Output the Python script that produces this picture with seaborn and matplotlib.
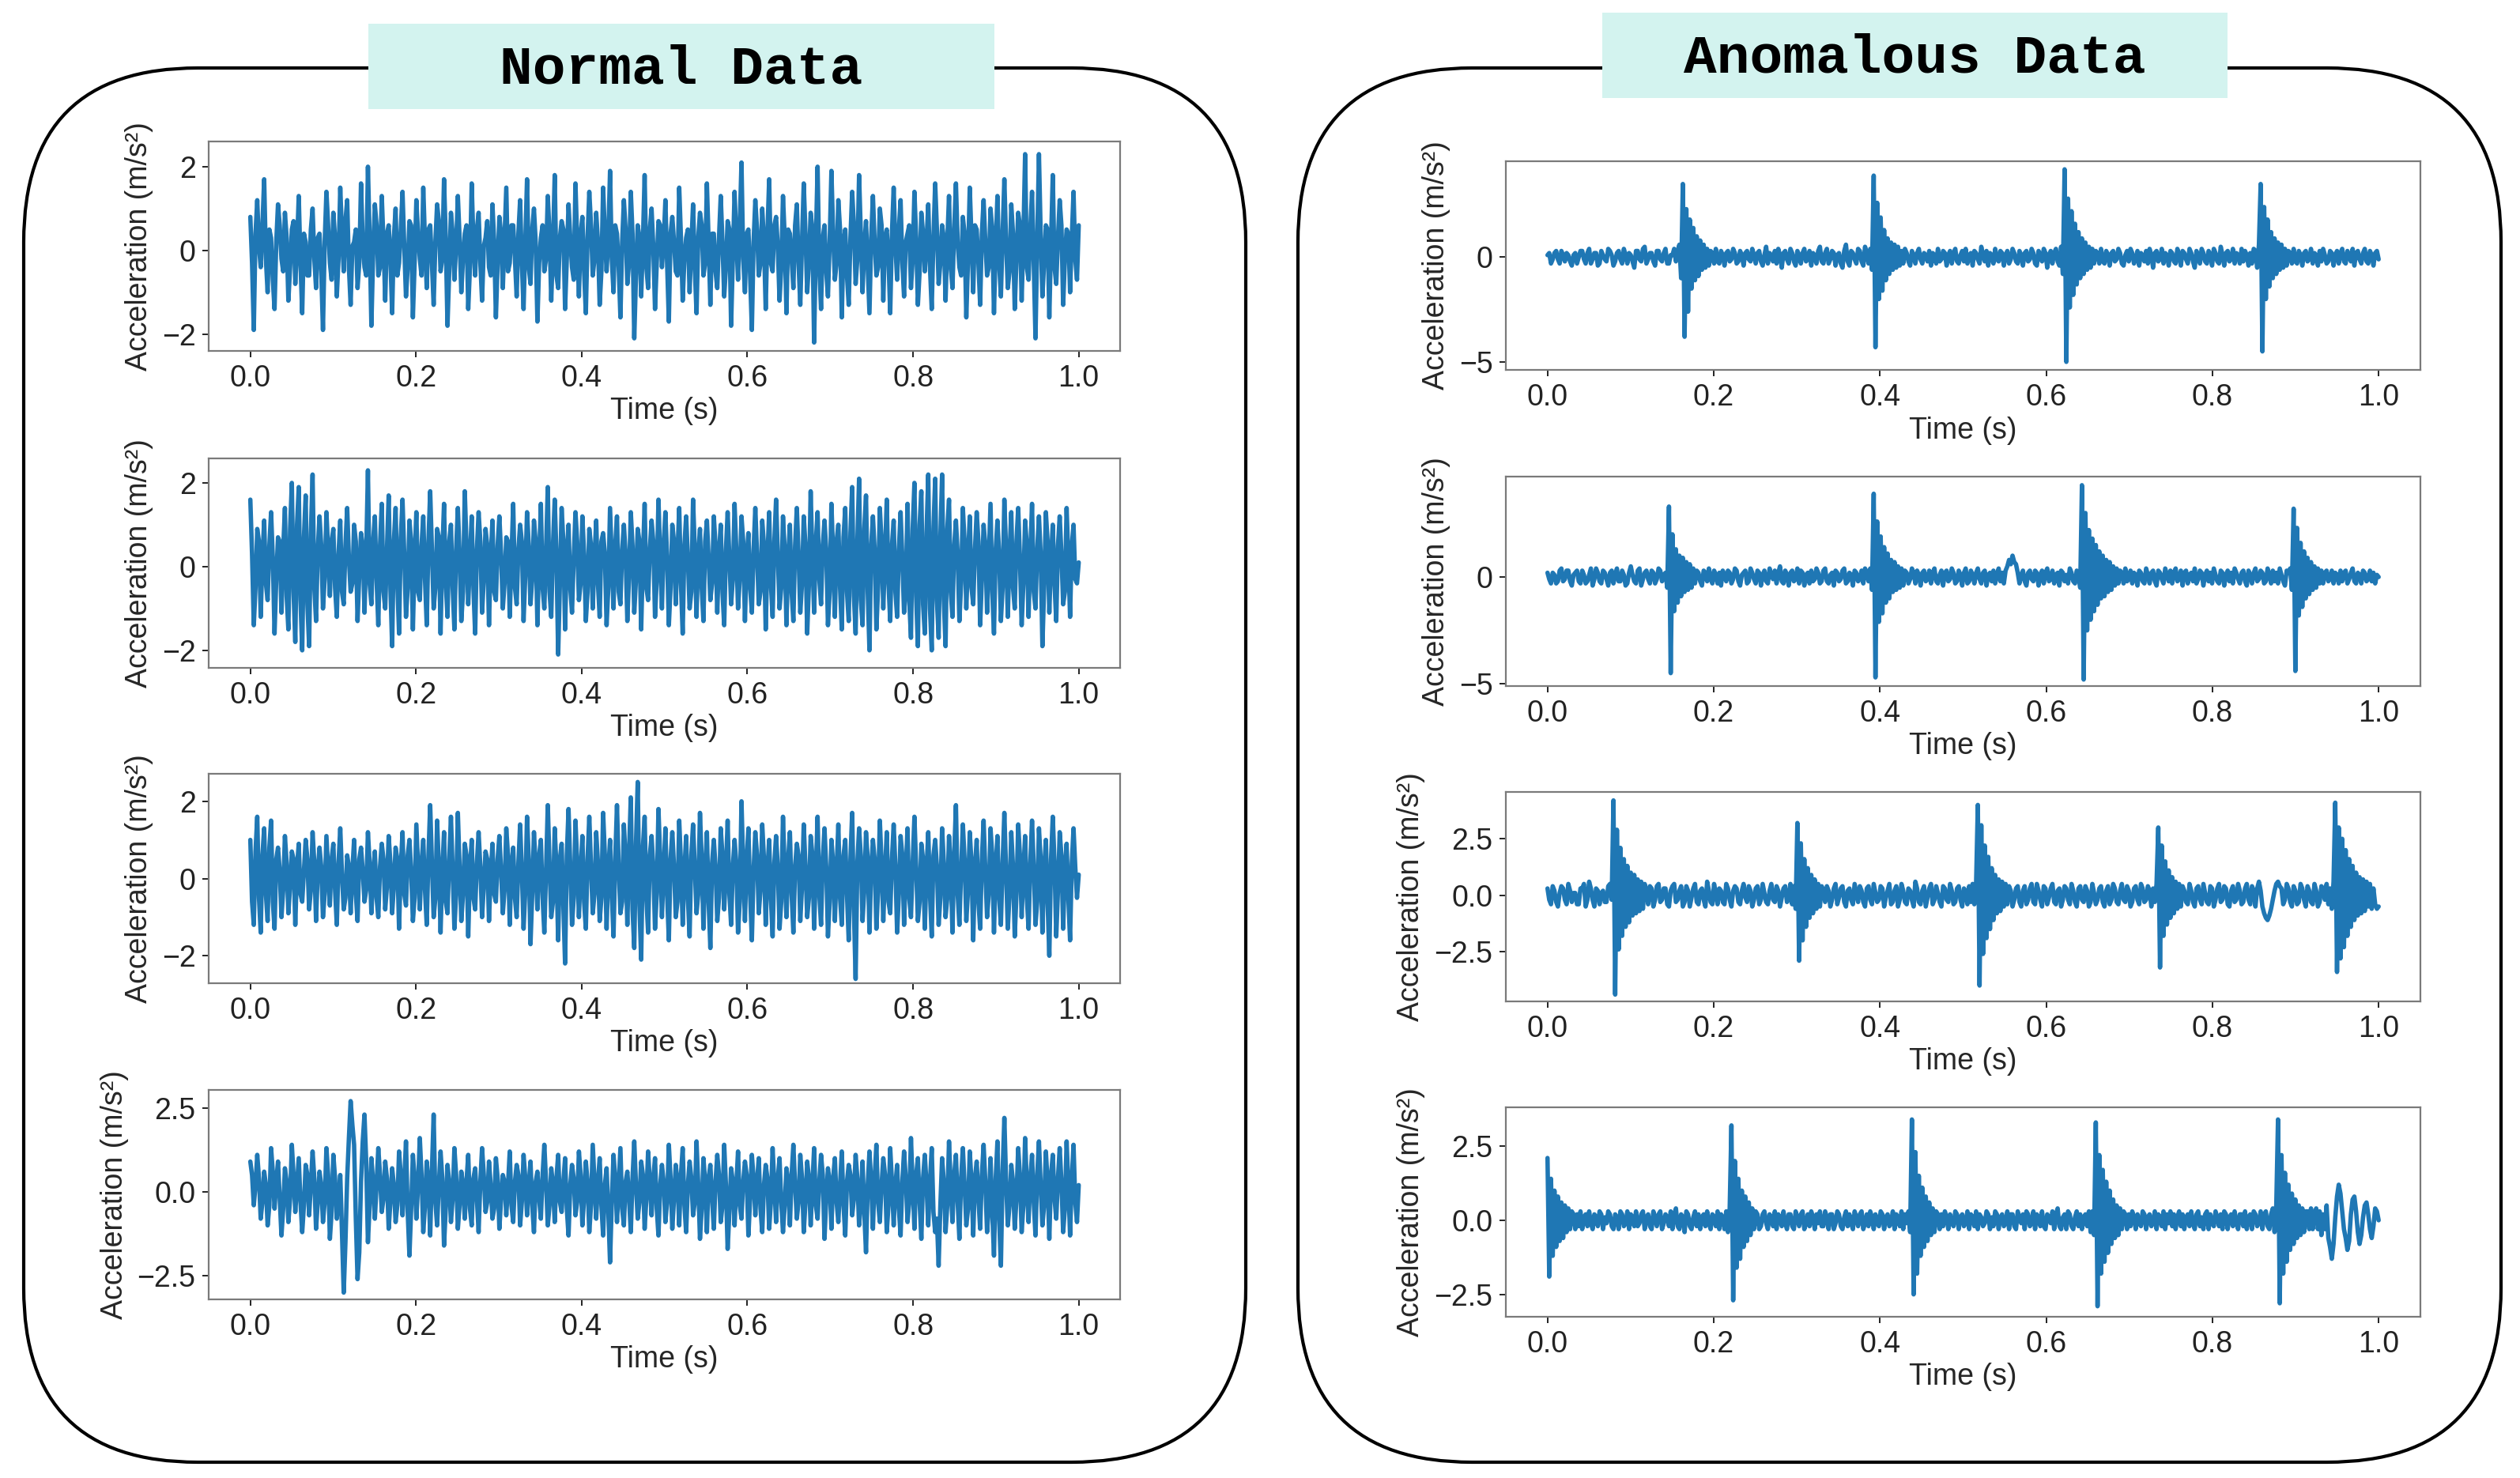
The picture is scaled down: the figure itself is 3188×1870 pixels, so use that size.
"""Normal vs anomalous vibration signals, two framed groups of four traces."""

import numpy as np
import matplotlib

matplotlib.use("Agg")
import matplotlib.pyplot as plt
from matplotlib.patches import FancyBboxPatch
import seaborn as sns

# ---------------------------------------------------------------------------
# Data: acceleration samples (m/s^2), 480 samples over 1 s
# ---------------------------------------------------------------------------
DURATION_S = 1.0

normal_1 = [
    0.8, -0.3, -1.9, 0.4, 1.2, 0.1, -0.4, 0.6, 1.7, -0.2, -1.0, 0.5, 0.3, -0.7, -1.4, 0.2, 1.1, 0.6, -0.2, -0.5,
    0.9, 0.3, -1.2, -0.4, 0.5, 0.7, -0.8, 0.1, 1.3, -0.3, -1.5, 0.4, 0.2, -0.6, -0.6, 0.5, 1.0, -0.2, -0.9, 0.3,
    0.4, -0.5, -1.9, 0.2, 1.4, 0.6, -0.3, -0.7, 0.9, 0.3, -1.1, -0.2, 1.5, 0.4, -0.5, 0.7, 1.2, -0.4, -1.3, 0.1,
    0.2, 0.5, -0.9, -0.3, 1.6, 0.2, -0.4, -0.6, 2.0, 0.3, -1.8, -0.1, 1.1, 0.6, -0.6, -0.4, 1.3, 0.2, -1.2, 0.4,
    0.6, -0.2, -1.5, 0.3, 1.0, -0.6, -0.3, 0.5, 1.4, 0.1, -1.1, -0.4, 0.7, 0.6, -1.6, -0.3, 1.2, 0.4, -0.2, -0.6,
    1.5, 0.2, -0.9, 0.5, 0.6, -0.3, -1.3, 0.2, 1.1, 0.7, -0.5, -0.2, 1.7, 0.3, -1.8, -0.5, 0.9, 0.4, -0.7, 0.1,
    1.3, 0.3, -1.0, -0.2, 0.4, 0.6, -1.4, -0.4, 1.6, 0.2, -0.6, 0.5, 0.9, -0.3, -1.2, 0.1, 0.3, 0.7, -0.4, -0.6,
    1.1, 0.2, -1.6, -0.3, 0.8, 0.4, -0.9, 0.3, 1.5, -0.5, -0.3, 0.6, 0.6, -0.2, -1.1, 0.4, 1.2, -0.3, -1.4, 0.2,
    1.7, -0.4, -0.8, 0.5, 1.0, 0.2, -1.7, -0.3, 0.3, 0.6, -0.5, -0.2, 1.3, 0.4, -1.2, 0.1, 1.8, -0.6, -0.9, 0.3,
    0.7, 0.5, -1.4, -0.2, 1.1, 0.3, -0.4, -0.7, 1.6, 0.2, -1.1, 0.4, 0.8, -0.5, -1.5, 0.3, 1.4, 0.6, -0.6, -0.2,
    0.9, 0.2, -1.3, -0.5, 1.5, 0.4, -0.5, 0.3, 1.9, -0.2, -1.0, 0.6, 0.4, -0.4, -1.6, 0.2, 1.2, 0.5, -0.8, -0.3,
    1.4, 0.4, -2.1, -0.6, 0.6, 0.3, -1.1, 0.2, 1.8, -0.4, -0.9, 0.5, 1.0, 0.1, -1.4, -0.3, 0.7, 0.6, -0.4, 0.2,
    1.2, -0.3, -1.7, 0.4, 0.8, 0.2, -0.5, -0.6, 1.5, 0.3, -1.2, -0.2, 0.3, 0.5, -1.0, 0.1, 1.1, -0.4, -1.5, 0.3,
    0.9, 0.6, -0.6, -0.3, 1.6, 0.2, -1.3, 0.4, 0.4, -0.5, -0.9, 0.3, 1.3, 0.2, -1.1, -0.4, 0.7, 0.5, -1.8, -0.2,
    1.4, 0.3, -0.7, 0.6, 2.1, -0.2, -1.0, 0.4, 0.5, -0.6, -1.9, 0.2, 1.2, 0.5, -0.6, -0.3, 1.0, 0.2, -1.4, 0.4,
    1.7, -0.3, -0.5, 0.6, 0.8, 0.1, -1.2, -0.4, 1.3, 0.3, -1.5, 0.5, 0.4, -0.2, -0.9, 0.6, 1.1, -0.3, -1.3, 0.2,
    1.6, 0.4, -1.0, -0.3, 0.9, 0.5, -2.2, 0.2, 2.0, -0.4, -1.4, 0.3, 0.6, -0.5, -1.1, 0.2, 1.9, 0.4, -0.7, -0.3,
    1.2, 0.5, -1.6, 0.2, 0.5, -0.6, -1.3, 0.3, 1.4, 0.6, -0.8, -0.2, 1.8, 0.4, -1.0, 0.1, 0.7, -0.4, -1.5, 0.3,
    1.3, 0.2, -0.6, -0.4, 1.0, 0.6, -1.2, 0.3, 0.5, -0.2, -1.5, 0.4, 1.5, 0.1, -0.7, 0.5, 1.2, -0.3, -1.1, 0.2,
    0.4, 0.6, -0.9, -0.2, 1.4, 0.3, -1.3, -0.5, 0.9, 0.4, -0.5, 0.2, 1.1, -0.4, -1.4, 0.3, 1.6, 0.5, -0.8, -0.3,
    0.6, 0.3, -1.2, 0.2, 1.3, -0.4, -0.9, 0.5, 1.6, 0.2, -0.4, -0.6, 0.8, 0.4, -1.6, -0.2, 1.5, 0.3, -1.0, 0.6,
    0.5, -0.3, -1.3, 0.4, 1.2, 0.2, -0.6, -0.4, 1.0, 0.5, -1.5, 0.1, 1.3, -0.3, -1.1, 0.4, 1.7, 0.2, -0.9, -0.5,
    1.1, 0.4, -1.4, -0.2, 0.9, 0.6, -1.2, 0.3, 2.3, -0.4, -0.7, 0.5, 1.4, -0.3, -2.1, 0.2, 2.3, 0.4, -1.1, -0.3,
    0.6, 0.5, -1.6, 0.2, 1.8, -0.4, -0.8, 0.3, 1.2, 0.6, -1.3, -0.2, 0.5, 0.4, -1.0, 0.3, 1.4, -0.2, -0.7, 0.6,
]

normal_2 = [
    1.6, 0.3, -1.4, -0.5, 0.9, 0.6, -1.2, 0.2, 1.1, -0.4, -0.8, 0.5, 1.3, 0.2, -1.6, -0.3, 0.7, 0.6, -1.1, 0.4,
    1.4, -0.7, -1.5, 0.9, 2.0, -0.6, -1.8, 1.0, 1.9, -0.8, -2.0, 0.7, 1.7, -0.9, -1.9, 0.8, 2.2, -0.5, -1.3, 0.4,
    1.2, 0.5, -1.0, -0.3, 1.3, 0.4, -0.7, 0.6, 0.9, -0.5, -1.2, 0.3, 1.1, -0.6, -0.9, 0.5, 1.4, 0.2, -0.6, -0.4,
    1.0, 0.6, -1.3, -0.2, 0.8, 0.5, -1.1, 0.3, 2.3, -0.4, -0.9, 0.6, 1.2, -0.3, -1.4, 0.5, 1.5, -0.6, -1.0, 0.4,
    1.7, -0.5, -1.9, 0.6, 1.4, -0.4, -1.6, 0.7, 1.6, 0.3, -1.2, -0.5, 1.1, 0.6, -1.5, 0.2, 1.3, -0.6, -0.8, 0.5,
    1.2, -0.3, -1.4, 0.6, 1.8, 0.4, -1.0, -0.5, 0.9, 0.7, -1.6, 0.3, 1.5, -0.4, -1.2, 0.6, 1.0, -0.5, -1.5, 0.4,
    1.4, 0.3, -1.3, -0.6, 1.8, 0.5, -0.9, 0.2, 1.2, -0.5, -1.6, 0.4, 1.3, 0.6, -1.1, -0.3, 0.9, 0.5, -1.4, 0.2,
    1.1, -0.6, -0.8, 0.5, 1.2, 0.3, -1.0, -0.4, 0.7, 0.6, -1.2, 0.2, 1.5, -0.5, -0.9, 0.4, 1.0, 0.6, -1.3, -0.2,
    1.3, 0.5, -0.9, -0.3, 1.1, 0.6, -1.4, 0.2, 1.5, -0.5, -1.0, 0.4, 1.9, -0.6, -1.2, 0.5, 1.6, 0.3, -2.1, -0.4,
    1.4, 0.6, -1.5, 0.3, 1.0, -0.5, -1.1, 0.2, 1.3, 0.6, -0.8, -0.4, 1.2, 0.3, -1.3, -0.6, 0.9, 0.5, -1.0, 0.2,
    1.1, -0.4, -1.2, 0.6, 0.8, 0.3, -1.4, -0.5, 1.4, 0.2, -1.0, 0.5, 1.2, -0.6, -0.9, 0.4, 1.0, 0.3, -1.3, -0.2,
    1.3, 0.5, -1.1, -0.3, 0.9, 0.6, -1.5, 0.2, 1.5, -0.5, -0.8, 0.4, 1.1, 0.6, -1.2, -0.3, 1.6, 0.2, -1.0, 0.5,
    1.3, 0.2, -1.4, -0.5, 1.0, 0.6, -0.9, 0.3, 1.4, -0.4, -1.6, 0.5, 1.2, 0.2, -1.0, -0.6, 1.6, 0.4, -1.2, 0.3,
    0.9, -0.5, -1.3, 0.6, 1.1, 0.2, -0.8, -0.4, 1.2, 0.5, -1.1, 0.3, 1.0, -0.6, -1.4, 0.4, 1.3, 0.2, -0.9, -0.3,
    1.5, 0.4, -1.0, -0.3, 1.2, 0.6, -1.3, 0.2, 0.8, -0.5, -1.1, 0.4, 1.4, 0.3, -0.9, -0.6, 1.1, 0.5, -1.5, 0.2,
    1.3, -0.4, -1.2, 0.6, 1.6, 0.3, -1.0, -0.5, 1.2, 0.4, -1.4, 0.2, 1.0, -0.6, -1.3, 0.5, 1.4, 0.3, -1.1, -0.4,
    1.2, 0.5, -1.6, -0.4, 1.8, 0.2, -1.1, 0.6, 1.3, -0.3, -0.9, 0.5, 1.1, 0.4, -1.4, -0.6, 1.5, 0.3, -1.2, 0.6,
    1.0, -0.5, -1.5, 0.7, 1.4, -0.6, -1.3, 0.8, 1.9, -0.7, -1.6, 0.6, 2.1, -0.8, -1.4, 0.9, 1.7, -0.6, -2.0, 0.5,
    1.2, 0.4, -1.5, -0.5, 1.4, 0.6, -1.0, 0.3, 1.6, -0.4, -1.3, 0.5, 1.1, -0.6, -1.2, 0.4, 1.3, 0.2, -1.1, -0.5,
    1.5, -0.8, -1.7, 0.9, 2.0, -0.7, -1.9, 1.0, 1.8, -0.9, -1.6, 0.8, 2.2, -1.0, -2.0, 0.9, 2.1, -0.8, -1.7, 0.7,
    2.2, -0.8, -1.9, 0.9, 1.6, -0.6, -1.2, 0.5, 1.1, 0.3, -1.3, -0.4, 1.4, 0.6, -1.0, 0.2, 1.2, -0.5, -0.9, 0.4,
    1.3, 0.6, -1.4, -0.3, 1.0, 0.5, -1.1, 0.2, 1.5, -0.6, -1.6, 0.4, 1.1, 0.3, -1.3, -0.5, 1.6, 0.4, -1.2, 0.3,
    1.3, -0.5, -1.0, 0.6, 1.4, 0.2, -1.4, -0.4, 1.1, 0.5, -1.2, 0.3, 1.5, -0.6, -1.0, 0.4, 1.2, 0.3, -1.9, -0.5,
    1.3, 0.6, -1.1, 0.2, 1.0, -0.4, -1.3, 0.5, 1.2, 0.3, -0.9, -0.6, 1.4, 0.2, -1.2, 0.5, 1.0, -0.3, -0.4, 0.1,
]

normal_3 = [
    1.0, -0.6, -1.2, 0.7, 1.6, -0.5, -1.4, 0.6, 1.3, -0.4, -1.1, 0.8, 1.5, -0.6, -1.3, 0.5, 0.8, 0.2, -1.0, -0.3,
    1.1, 0.4, -0.9, -0.2, 0.7, 0.5, -1.2, 0.3, 0.9, -0.4, -0.6, 0.2, 1.0, 0.5, -0.8, -0.3, 1.2, 0.4, -1.1, 0.2,
    0.8, 0.3, -1.0, -0.4, 1.1, 0.2, -0.7, 0.5, 0.9, -0.3, -1.2, 0.4, 1.3, 0.1, -0.8, -0.5, 0.6, 0.3, -0.9, 0.2,
    1.0, -0.4, -1.1, 0.5, 0.8, 0.2, -0.6, -0.3, 1.2, 0.4, -0.9, 0.1, 0.7, -0.5, -1.0, 0.3, 0.9, 0.5, -0.8, -0.2,
    1.1, 0.4, -0.9, -0.2, 0.8, 0.5, -1.3, 0.3, 1.2, -0.4, -0.7, 0.6, 1.0, 0.2, -1.1, -0.5, 1.4, 0.3, -0.8, 0.4,
    1.0, -0.3, -1.2, 0.6, 1.9, 0.4, -1.0, -0.5, 1.5, 0.3, -1.4, 0.2, 1.2, -0.6, -0.9, 0.5, 1.6, 0.2, -1.3, -0.4,
    1.7, 0.3, -1.1, -0.4, 0.9, 0.6, -1.5, 0.2, 1.0, -0.5, -0.8, 0.4, 1.2, 0.3, -1.0, -0.2, 0.7, 0.5, -1.1, 0.1,
    0.9, -0.4, -0.6, 0.5, 1.1, 0.2, -0.9, -0.3, 1.3, 0.6, -1.2, 0.3, 0.8, -0.5, -1.0, 0.4, 1.4, 0.2, -1.3, -0.3,
    1.6, 0.5, -1.7, -0.4, 1.2, 0.3, -0.8, 0.6, 1.0, -0.5, -1.4, 0.2, 1.9, 0.4, -1.0, -0.6, 1.3, 0.3, -1.6, 0.5,
    0.9, -0.7, -2.2, 0.6, 1.8, 0.3, -1.2, -0.5, 1.5, 0.4, -1.0, 0.2, 1.1, -0.6, -1.3, 0.5, 1.6, 0.3, -0.9, -0.4,
    1.2, 0.4, -1.1, -0.5, 1.7, 0.6, -1.3, 0.2, 1.0, -0.4, -1.5, 0.5, 1.9, 0.3, -0.9, -0.6, 1.4, 0.5, -1.2, 0.7,
    2.1, -0.8, -1.8, 0.9, 2.5, -0.7, -2.1, 0.8, 1.6, -0.5, -1.4, 0.6, 1.1, 0.3, -1.3, -0.4, 1.8, 0.5, -1.0, 0.2,
    1.3, -0.4, -1.6, 0.5, 1.2, 0.3, -1.0, -0.6, 1.5, 0.4, -1.2, 0.2, 1.1, -0.5, -1.5, 0.6, 1.4, 0.3, -0.9, -0.4,
    1.7, 0.5, -1.3, 0.2, 1.2, -0.6, -1.8, 0.4, 1.0, 0.3, -1.1, -0.5, 1.3, 0.6, -0.8, 0.2, 1.5, -0.4, -1.2, 0.3,
    1.0, 0.4, -1.4, -0.6, 2.0, 0.3, -1.1, 0.5, 1.3, -0.4, -1.6, 0.2, 1.2, 0.6, -0.9, -0.3, 1.4, 0.5, -1.2, 0.2,
    1.0, -0.5, -1.5, 0.4, 1.1, 0.3, -1.3, -0.6, 1.6, 0.2, -1.0, 0.5, 1.2, -0.4, -1.4, 0.3, 0.9, 0.6, -1.1, -0.2,
    1.4, 0.3, -1.0, -0.5, 1.1, 0.6, -1.3, 0.2, 1.6, -0.4, -1.2, 0.5, 1.3, 0.3, -1.5, -0.6, 1.0, 0.4, -1.1, 0.2,
    1.4, -0.5, -1.2, 0.6, 1.0, -0.4, -1.6, 0.5, 1.7, -0.8, -2.6, 0.4, 1.3, 0.6, -1.1, -0.3, 1.2, 0.5, -1.4, 0.2,
    1.0, 0.5, -1.3, -0.3, 1.5, 0.4, -1.1, 0.2, 1.2, -0.6, -0.9, 0.5, 1.4, 0.3, -1.4, -0.4, 1.1, 0.6, -1.2, 0.2,
    1.3, -0.5, -1.0, 0.4, 1.6, 0.3, -1.1, -0.6, 0.9, 0.5, -1.3, 0.2, 1.2, -0.4, -1.5, 0.6, 1.0, 0.3, -1.2, -0.5,
    1.3, 0.4, -1.0, -0.5, 1.1, 0.3, -1.4, 0.6, 1.9, -0.4, -1.2, 0.2, 1.4, 0.5, -1.1, -0.3, 1.2, 0.4, -1.6, 0.3,
    1.0, -0.6, -1.3, 0.5, 1.5, 0.2, -1.0, -0.4, 1.3, 0.6, -1.4, 0.3, 1.1, -0.5, -1.2, 0.4, 1.7, 0.2, -1.3, -0.4,
    1.2, 0.3, -1.5, -0.4, 1.4, 0.6, -1.0, 0.2, 1.1, -0.5, -1.3, 0.4, 1.5, 0.3, -1.2, -0.6, 1.3, 0.5, -1.4, 0.2,
    1.0, -0.6, -2.0, 0.5, 1.6, 0.4, -1.5, -0.3, 1.2, 0.6, -1.3, 0.2, 0.9, -0.5, -1.6, 0.4, 1.3, 0.3, -0.5, 0.1,
]

normal_4 = [
    0.9, 0.5, -0.4, 0.2, 1.1, 0.4, -0.8, -0.3, 0.6, 0.2, -1.0, -0.4, 1.3, 0.6, -0.5, 0.3, 0.9, -0.2, -1.3, -0.5,
    0.7, 0.3, -0.9, -0.2, 1.4, 0.5, -0.6, 0.2, 1.0, -0.3, -1.2, -0.4, 0.8, 0.5, -0.7, 0.2, 1.2, 0.4, -1.1, -0.3,
    0.6, 0.2, -0.9, -0.3, 1.3, 0.5, -1.4, -0.6, 1.1, 0.4, -0.8, -0.2, 0.5, -1.2, -3.0, -1.5, 0.4, 1.6, 2.7, 2.0,
    1.4, -0.8, -2.6, -1.8, 0.3, 1.5, 2.3, 0.9, -1.5, -0.4, 1.0, 0.3, -0.8, 0.2, 1.3, 0.5, -0.6, -0.2, 0.9, 0.4,
    -1.1, -0.3, 0.7, 0.2, -0.9, -0.4, 1.2, 0.5, -0.7, 0.3, 1.5, -0.6, -1.9, -0.5, 1.1, 0.4, -0.8, 0.2, 1.6, 0.5,
    -1.2, -0.4, 0.9, 0.3, -1.3, 0.6, 2.3, -0.3, -1.0, 0.2, 1.2, 0.4, -1.6, -0.5, 0.8, 0.3, -0.9, -0.2, 1.3, 0.5,
    -1.1, -0.4, 0.6, 0.2, -0.8, 0.3, 1.1, -0.5, -1.0, 0.4, 0.7, -0.2, -1.2, 0.3, 1.3, 0.5, -0.6, -0.3, 0.9, 0.2,
    -0.8, -0.5, 1.0, 0.4, -1.1, -0.2, 0.5, 0.3, -0.7, 0.2, 1.2, -0.4, -0.9, 0.3, 0.8, 0.5, -1.0, -0.3, 1.1, 0.4,
    -0.7, 0.2, 0.9, -0.4, -1.2, 0.3, 0.6, -0.2, -0.8, 0.5, 1.4, 0.3, -1.0, -0.4, 0.7, 0.2, -0.9, 0.4, 1.1, -0.3,
    -0.6, 0.3, 1.0, -0.5, -1.3, 0.2, 0.8, 0.4, -0.7, -0.3, 1.2, 0.5, -1.0, -0.2, 0.9, 0.3, -1.2, -0.4, 1.4, 0.3,
    -0.8, 0.3, 1.0, -0.4, -1.3, 0.2, 0.7, -0.6, -2.1, -0.3, 1.1, 0.4, -0.9, 0.2, 1.3, -0.5, -1.0, 0.3, 0.6, -0.2,
    -1.2, 0.4, 1.5, 0.2, -0.8, -0.3, 0.9, 0.5, -1.1, -0.2, 1.2, 0.3, -0.7, 0.4, 1.0, -0.5, -1.3, 0.2, 0.8, 0.3,
    -0.9, -0.3, 1.4, 0.4, -1.1, -0.2, 0.8, 0.3, -1.0, 0.5, 1.3, -0.4, -1.2, 0.2, 0.9, 0.4, -0.7, -0.3, 1.5, 0.2,
    -1.4, -0.5, 1.0, 0.3, -1.2, 0.4, 0.8, -0.2, -1.1, 0.3, 1.1, 0.5, -0.9, -0.4, 1.4, 0.2, -1.7, -0.6, 0.7, 0.3,
    -1.0, 0.2, 1.2, -0.4, -0.8, 0.3, 0.9, 0.5, -1.3, -0.2, 1.1, 0.4, -0.7, 0.3, 1.0, -0.5, -1.2, 0.2, 0.8, 0.4,
    -1.1, -0.3, 1.3, 0.2, -0.9, 0.4, 1.0, -0.3, -1.2, -0.4, 0.7, 0.3, -1.0, 0.5, 1.4, 0.2, -0.8, -0.3, 1.1, 0.4,
    -1.2, -0.3, 0.9, 0.4, -1.0, 0.2, 1.3, -0.4, -0.8, 0.3, 1.1, 0.5, -1.4, -0.2, 0.7, 0.3, -1.1, 0.4, 1.0, -0.3,
    -0.9, 0.2, 1.2, -0.4, -1.3, 0.3, 0.8, 0.5, -0.7, -0.2, 1.1, 0.4, -1.0, -0.3, 0.9, -0.6, -1.8, 0.2, 1.2, 0.3,
    -1.1, 0.4, 1.4, -0.3, -0.9, 0.2, 1.0, 0.5, -1.2, -0.4, 1.3, 0.3, -1.0, 0.2, 0.8, -0.5, -1.3, 0.3, 1.2, 0.4,
    -0.9, -0.3, 1.6, 0.2, -1.1, 0.5, 1.0, -0.3, -1.4, 0.4, 1.1, 0.2, -1.0, 0.3, 1.3, -0.6, -1.2, -0.8, -2.2, -0.4,
    1.0, 0.3, -1.2, -0.4, 1.5, 0.2, -0.9, 0.5, 1.1, -0.3, -1.4, 0.4, 1.3, 0.2, -1.0, -0.5, 1.2, 0.3, -1.3, 0.4,
    0.9, -0.2, -1.1, 0.5, 1.4, 0.3, -1.2, -0.4, 1.0, -0.6, -1.9, 0.4, 1.5, -0.8, -2.2, 0.6, 2.2, 0.3, -1.0, -0.4,
    0.8, 0.3, -1.1, -0.2, 1.3, 0.5, -1.2, -0.4, 1.6, 0.2, -0.9, 0.4, 1.1, -0.3, -1.3, 0.5, 1.5, 0.2, -1.0, -0.4,
    1.2, 0.3, -1.4, 0.5, 1.1, -0.2, -0.8, 0.4, 1.3, 0.3, -1.2, -0.5, 1.5, 0.2, -1.3, 0.4, 1.4, -0.3, -0.9, 0.2,
]

anomalous_1 = [
    0.1, 0.2, -0.3, -0.1, 0.2, 0.3, -0.1, -0.3, 0.3, 0.1, -0.2, 0.2, 0.1, -0.2, -0.4, 0.1, 0.2, -0.3, 0.0, 0.3,
    0.3, -0.1, -0.3, 0.2, 0.4, -0.3, -0.1, 0.2, 0.2, -0.4, -0.3, 0.3, 0.1, -0.1, -0.2, 0.4, 0.3, 0.1, -0.4, -0.2,
    0.2, 0.3, -0.1, -0.3, 0.4, 0.1, -0.3, 0.2, 0.1, -0.2, -0.5, 0.3, 0.3, -0.1, -0.2, 0.4, 0.5, -0.3, -0.1, 0.2,
    0.2, -0.2, -0.4, 0.3, 0.3, -0.1, -0.2, 0.2, 0.4, -0.3, -0.3, 0.1, 0.1, 0.4, -0.2, 0.3, 0.6, -1.0, 3.5, -3.8,
    2.3, -2.6, 1.8, -1.5, 1.4, -1.1, 1.0, -0.9, 0.8, -0.6, 0.6, -0.5, 0.4, -0.4, 0.3, 0.2, -0.3, 0.4, -0.2, -0.3,
    0.3, 0.1, -0.4, 0.2, 0.3, -0.2, -0.1, 0.4, 0.2, -0.3, -0.2, 0.3, 0.1, -0.4, 0.2, 0.3, -0.1, -0.2, 0.4, 0.1,
    -0.3, 0.2, 0.3, -0.2, -0.4, 0.1, 0.5, -0.3, 0.2, 0.1, -0.2, 0.3, -0.3, 0.4, 0.1, -0.5, 0.2, 0.3, -0.1, -0.3,
    0.4, 0.2, -0.2, -0.4, 0.3, 0.1, -0.3, 0.2, 0.4, -0.2, -0.1, 0.3, -0.4, 0.2, 0.1, -0.3, 0.3, 0.5, -0.2, -0.3,
    0.2, 0.4, -0.3, -0.1, 0.3, 0.2, -0.4, 0.1, 0.2, -0.3, -0.5, 0.3, 0.6, -0.2, -0.4, 0.3, 0.2, -0.1, -0.3, 0.4,
    0.3, -0.2, -0.4, 0.5, 0.2, -0.3, 0.4, -0.6, 3.9, -4.3, 2.6, -2.0, 1.9, -1.6, 1.3, -1.1, 0.9, -0.8, 0.7, -0.6,
    0.6, -0.5, 0.5, -0.4, 0.3, -0.3, 0.4, 0.2, -0.2, -0.4, 0.3, 0.1, -0.3, 0.2, 0.4, -0.1, -0.3, 0.2, 0.1, -0.2,
    0.3, -0.4, 0.2, 0.1, -0.3, 0.4, -0.2, -0.1, 0.3, 0.2, -0.4, 0.1, 0.3, -0.3, 0.2, 0.4, -0.2, -0.3, 0.1, 0.3,
    -0.2, 0.4, -0.3, 0.1, 0.2, -0.4, 0.3, 0.2, -0.1, -0.3, 0.5, 0.1, -0.2, 0.3, -0.4, 0.2, 0.1, -0.3, 0.4, -0.1,
    -0.2, 0.3, 0.2, -0.4, 0.1, 0.3, -0.3, -0.1, 0.4, 0.2, -0.2, -0.3, 0.3, 0.1, -0.4, 0.2, 0.3, -0.2, -0.1, 0.4,
    0.2, -0.3, -0.4, 0.3, 0.1, -0.2, 0.4, 0.2, -0.5, 0.1, 0.3, -0.3, 0.2, 0.4, -0.2, -0.4, 0.5, -0.8, 4.2, -5.0,
    2.8, -2.4, 2.2, -1.8, 1.6, -1.3, 1.2, -1.0, 0.9, -0.8, 0.7, -0.6, 0.5, -0.5, 0.4, -0.3, 0.3, 0.2, -0.3, 0.4,
    -0.2, -0.3, 0.3, 0.1, -0.4, 0.2, 0.3, -0.2, -0.1, 0.4, 0.2, -0.3, -0.4, 0.1, 0.3, -0.2, 0.4, 0.2, -0.3, -0.1,
    0.3, -0.4, 0.2, 0.1, -0.2, 0.3, -0.3, 0.4, 0.1, -0.5, 0.2, 0.3, -0.2, -0.1, 0.4, -0.3, 0.2, 0.1, -0.4, 0.3,
    0.2, -0.2, -0.3, 0.4, 0.1, -0.4, 0.3, 0.2, -0.1, -0.3, 0.4, 0.2, -0.2, -0.5, 0.3, 0.1, -0.3, 0.4, 0.2, -0.2,
    -0.3, 0.3, 0.1, -0.4, 0.4, 0.2, -0.2, -0.3, 0.5, 0.1, -0.4, 0.2, 0.3, -0.2, -0.1, 0.4, -0.3, 0.2, 0.1, -0.3,
    0.4, -0.2, 0.3, 0.1, -0.4, 0.2, -0.3, 0.4, 0.3, -0.5, 0.6, 3.5, -4.5, 2.4, -2.0, 1.8, -1.4, 1.2, -1.0, 0.9,
    -0.8, 0.7, -0.6, 0.6, -0.5, 0.4, -0.4, 0.3, 0.2, -0.3, 0.4, -0.2, -0.3, 0.3, 0.1, -0.4, 0.2, 0.3, -0.2, -0.1,
    0.4, -0.3, 0.2, 0.1, -0.4, 0.3, -0.2, 0.4, 0.1, -0.3, -0.2, 0.3, 0.2, -0.4, 0.1, 0.3, -0.3, 0.2, 0.4, -0.2,
    -0.3, 0.3, 0.1, -0.2, 0.4, -0.4, 0.2, 0.3, -0.1, -0.3, 0.2, 0.4, -0.2, -0.3, 0.3, 0.1, -0.4, 0.2, 0.3, -0.1,
]

anomalous_2 = [
    0.2, -0.1, -0.3, 0.2, 0.1, -0.3, -0.2, 0.3, 0.4, -0.2, -0.1, 0.3, 0.3, -0.2, -0.4, 0.1, 0.2, 0.3, -0.2, -0.3,
    0.3, 0.1, -0.3, -0.2, 0.1, 0.4, -0.4, -0.1, 0.4, 0.2, -0.2, -0.3, 0.3, 0.2, -0.1, -0.4, 0.2, 0.3, -0.3, 0.1,
    0.4, -0.2, -0.2, 0.3, 0.1, -0.4, -0.3, 0.2, 0.5, 0.1, -0.2, -0.3, 0.3, 0.4, -0.4, -0.1, 0.2, 0.3, -0.1, -0.3,
    0.3, 0.2, -0.3, -0.1, 0.4, 0.3, -0.2, 0.1, 0.2, -0.5, 3.3, -4.5, 2.0, -1.6, 1.3, -1.2, 1.0, -0.9, 0.9, -0.7,
    0.7, -0.6, 0.6, -0.5, 0.4, -0.3, 0.3, 0.2, -0.2, -0.4, 0.3, 0.2, -0.2, 0.4, -0.1, -0.3, 0.3, 0.1, -0.3, 0.2,
    -0.4, 0.3, 0.1, -0.2, 0.3, 0.2, -0.3, -0.1, 0.4, 0.3, -0.2, -0.4, 0.1, 0.2, 0.3, -0.3, -0.2, 0.4, 0.2, -0.1,
    -0.3, 0.3, 0.2, -0.4, 0.1, 0.3, -0.2, -0.3, 0.4, 0.1, -0.1, 0.3, -0.3, 0.2, 0.5, -0.2, -0.3, 0.3, 0.1, -0.4,
    0.2, 0.3, -0.2, -0.1, 0.4, -0.3, 0.3, 0.2, -0.4, 0.1, 0.2, -0.3, 0.3, -0.2, -0.1, 0.4, 0.2, -0.3, -0.2, 0.3,
    0.4, -0.2, -0.3, 0.1, 0.2, -0.4, 0.3, 0.2, -0.2, -0.1, 0.3, 0.4, -0.3, -0.2, 0.2, 0.1, -0.4, 0.3, 0.2, -0.2,
    -0.1, 0.3, -0.3, 0.4, 0.2, -0.2, 0.4, -0.6, 3.9, -4.7, 2.6, -2.1, 1.9, -1.7, 1.4, -1.2, 1.1, -1.0, 0.8, -0.7,
    0.7, -0.6, 0.5, -0.5, 0.4, -0.4, 0.3, 0.2, -0.3, -0.1, 0.4, 0.2, -0.3, 0.3, 0.1, -0.4, 0.2, 0.3, -0.2, -0.1,
    0.3, -0.3, 0.2, 0.4, -0.2, -0.3, 0.1, 0.3, -0.4, 0.2, 0.3, -0.2, -0.1, 0.4, 0.2, -0.3, -0.2, 0.3, 0.1, -0.4,
    0.2, 0.4, -0.3, -0.2, 0.3, 0.1, -0.3, 0.2, 0.4, -0.1, -0.3, 0.2, 0.3, -0.4, 0.1, 0.2, -0.2, 0.3, -0.3, 0.1,
    0.4, -0.2, 0.2, -0.3, 0.3, 0.5, 0.8, 0.6, 1.0, 0.7, 0.6, 0.2, -0.3, 0.1, 0.3, -0.2, -0.4, 0.2, 0.3, -0.1,
    -0.2, 0.3, 0.2, -0.4, 0.1, 0.3, -0.3, 0.2, 0.4, -0.2, -0.1, 0.3, -0.3, 0.1, 0.2, -0.4, 0.3, 0.2, -0.2, 0.1,
    -0.3, 0.4, 0.2, -0.2, -0.3, 0.3, 0.1, -0.5, 4.3, -4.8, 3.0, -2.5, 2.2, -2.0, 1.8, -1.6, 1.5, -1.3, 1.2, -1.0,
    1.0, -0.9, 0.8, -0.7, 0.7, -0.6, 0.5, -0.4, 0.4, -0.3, 0.3, 0.2, -0.3, 0.4, -0.2, -0.1, 0.3, -0.3, 0.2, 0.1,
    -0.4, 0.3, 0.2, -0.2, -0.3, 0.4, 0.1, -0.3, 0.2, 0.3, -0.2, -0.4, 0.3, 0.2, -0.1, -0.3, 0.4, 0.1, -0.2, 0.3,
    -0.3, 0.2, 0.4, -0.2, -0.1, 0.3, -0.4, 0.2, 0.3, -0.3, 0.1, 0.2, -0.2, 0.4, -0.3, -0.1, 0.3, 0.2, -0.4, 0.1,
    0.3, -0.2, 0.2, -0.3, 0.4, 0.1, -0.2, -0.3, 0.3, 0.2, -0.4, 0.1, 0.3, -0.2, 0.2, -0.3, 0.4, 0.2, -0.1, -0.3,
    0.2, 0.3, -0.2, -0.4, 0.3, 0.1, -0.3, 0.2, 0.4, -0.2, -0.1, 0.3, 0.2, -0.3, -0.2, 0.4, 0.1, -0.3, 0.3, -0.2,
    0.2, -0.3, 0.4, 0.1, -0.2, -0.4, 0.3, 0.2, 0.4, -0.6, 3.2, -4.4, 2.3, -1.8, 1.6, -1.4, 1.2, -1.0, 0.9, -0.8,
    0.7, -0.6, 0.5, -0.5, 0.4, -0.3, 0.3, -0.3, 0.2, 0.3, -0.2, -0.1, 0.3, -0.3, 0.2, 0.1, -0.3, 0.3, -0.2, 0.2,
    0.3, -0.3, -0.1, 0.2, 0.4, -0.2, -0.3, 0.2, 0.1, -0.3, 0.3, 0.2, -0.2, -0.1, 0.3, -0.2, 0.2, -0.3, 0.1, 0.0,
]

anomalous_3 = [
    0.3, -0.2, -0.4, 0.4, 0.2, -0.3, -0.5, 0.1, 0.4, 0.3, -0.2, -0.4, 0.5, 0.2, -0.3, 0.1, 0.1, -0.4, -0.4, 0.3,
    0.3, 0.5, -0.5, -0.2, 0.6, 0.3, -0.2, -0.5, 0.3, 0.2, -0.4, 0.1, 0.2, -0.3, -0.3, 0.4, 0.5, -0.2, 4.2, -4.4,
    2.9, -2.4, 2.1, -1.8, 1.6, -1.4, 1.3, -1.2, 1.0, -0.9, 0.9, -0.8, 0.7, -0.7, 0.6, -0.6, 0.5, 0.2, -0.4, 0.4,
    0.3, -0.5, -0.2, 0.4, 0.5, -0.3, -0.2, 0.3, 0.3, -0.4, -0.5, 0.2, 0.4, 0.5, -0.3, -0.2, 0.2, 0.4, -0.5, -0.3,
    0.4, 0.2, -0.5, -0.1, 0.3, 0.5, -0.3, -0.4, 0.2, 0.3, -0.2, -0.5, 0.6, 0.2, -0.3, -0.4, 0.5, 0.1, -0.4, 0.3,
    0.2, -0.3, -0.4, 0.5, 0.3, -0.2, -0.5, 0.2, 0.4, 0.3, -0.3, -0.4, 0.2, 0.5, -0.1, -0.3, 0.4, 0.2, -0.5, -0.2,
    0.3, 0.4, -0.4, -0.2, 0.5, 0.1, -0.3, -0.4, 0.2, 0.5, -0.2, -0.3, 0.4, 0.2, -0.5, -0.1, 0.3, 0.4, -0.3, -0.2,
    0.5, -0.4, 0.4, -0.6, 3.2, -2.9, 2.3, -2.0, 1.6, -1.4, 1.2, -1.0, 0.9, -0.8, 0.7, -0.6, 0.5, -0.5, 0.4, 0.2,
    -0.3, 0.4, 0.2, -0.5, -0.2, 0.3, 0.5, -0.4, -0.1, 0.3, 0.4, -0.3, -0.5, 0.2, 0.3, -0.2, -0.4, 0.5, 0.1, -0.3,
    0.4, 0.2, -0.3, -0.5, 0.3, 0.4, -0.2, -0.4, 0.5, 0.1, -0.3, -0.2, 0.4, 0.3, -0.5, -0.1, 0.2, 0.5, -0.4, -0.3,
    0.2, 0.4, -0.5, -0.2, 0.5, 0.2, -0.3, -0.4, 0.3, 0.2, -0.2, -0.5, 0.6, 0.3, -0.3, -0.4, 0.2, 0.4, -0.5, -0.1,
    0.3, 0.5, -0.4, -0.2, 0.4, 0.1, -0.3, -0.5, 0.4, 0.3, -0.2, -0.3, 0.5, 0.2, -0.4, -0.3, 0.3, 0.4, -0.2, -0.5,
    0.3, 0.2, -0.4, 0.4, -0.3, 0.5, -0.4, 0.5, 4.0, -4.0, 3.1, -2.6, 2.2, -1.9, 1.7, -1.5, 1.2, -1.1, 0.9, -0.8,
    0.7, -0.7, 0.6, -0.5, 0.5, -0.4, 0.4, 0.2, -0.5, -0.2, 0.3, 0.4, -0.3, -0.5, 0.2, 0.4, -0.4, -0.2, 0.3, 0.5,
    -0.3, -0.4, 0.5, 0.2, -0.2, -0.5, 0.4, 0.3, -0.4, -0.1, 0.3, 0.5, -0.3, -0.4, 0.2, 0.3, -0.5, -0.2, 0.4, 0.3,
    -0.2, -0.4, 0.5, 0.2, -0.3, -0.5, 0.3, 0.4, -0.2, -0.3, 0.4, 0.2, -0.5, -0.3, 0.5, 0.1, -0.4, -0.2, 0.3, 0.4,
    -0.3, -0.5, 0.2, 0.4, -0.4, -0.2, 0.5, 0.3, -0.3, -0.4, 0.2, 0.5, -0.2, -0.3, 0.4, 0.2, -0.5, -0.3, 0.3, 0.4,
    -0.2, -0.4, 0.5, 0.3, -0.3, -0.2, 0.4, 0.2, -0.5, 0.3, -0.3, 0.5, 3.0, -3.2, 2.2, -1.8, 1.5, -1.3, 1.1, -1.0,
    0.8, -0.8, 0.6, -0.6, 0.5, -0.5, 0.4, 0.2, -0.3, -0.4, 0.5, 0.2, -0.3, -0.5, 0.3, 0.4, -0.2, -0.4, 0.5, 0.1,
    -0.3, -0.4, 0.4, 0.3, -0.5, -0.2, 0.3, 0.5, -0.3, -0.2, 0.4, 0.3, -0.4, -0.5, 0.2, 0.4, -0.3, -0.2, 0.5, 0.2,
    -0.4, -0.3, 0.3, 0.5, -0.2, -0.4, 0.4, 0.2, -0.5, 0.3, 0.6, 0.2, -0.5, -0.8, -1.0, -1.1, -0.9, -0.6, -0.2, 0.2,
    0.5, 0.6, 0.4, 0.3, -0.4, -0.2, 0.5, 0.3, -0.3, -0.5, 0.4, 0.2, -0.4, -0.3, 0.5, 0.3, -0.2, -0.5, 0.4, 0.2,
    -0.3, -0.4, 0.5, 0.2, -0.5, -0.3, 0.4, 0.3, -0.2, 0.5, -0.4, 0.3, -0.6, 0.6, 4.1, -3.4, 3.0, -2.8, 2.5, -2.3,
    2.0, -1.8, 1.6, -1.4, 1.3, -1.1, 1.0, -0.9, 0.8, -0.8, 0.7, -0.7, 0.6, -0.5, 0.5, -0.6, 0.3, -0.4, -0.6, -0.5,
]

anomalous_4 = [
    2.1, -1.9, 1.4, -1.2, 1.0, -0.9, 0.8, -0.7, 0.6, -0.6, 0.5, -0.4, 0.4, -0.3, 0.3, 0.2, -0.3, 0.2, -0.2, 0.3,
    -0.3, 0.1, 0.2, -0.2, 0.3, -0.1, -0.3, 0.2, 0.1, -0.2, 0.3, 0.2, -0.3, 0.1, -0.1, 0.3, 0.2, -0.2, -0.3, 0.2,
    0.1, -0.3, 0.3, 0.2, -0.2, -0.1, 0.3, -0.3, 0.2, 0.1, -0.2, 0.3, -0.2, -0.1, 0.2, 0.3, -0.3, 0.1, 0.2, -0.2,
    -0.3, 0.3, 0.1, -0.2, 0.2, 0.3, -0.3, -0.1, 0.2, 0.1, -0.2, 0.3, -0.3, 0.2, 0.4, -0.2, -0.3, 0.2, 0.1, -0.4,
    0.3, 0.2, -0.2, -0.3, 0.1, 0.3, -0.2, 0.2, -0.3, 0.1, 0.2, -0.2, 0.3, -0.1, -0.3, 0.2, 0.1, -0.2, 0.3, -0.3,
    0.2, 0.1, -0.3, 0.3, -0.4, 0.4, 3.2, -2.7, 2.0, -1.6, 1.4, -1.3, 1.0, -0.9, 0.8, -0.7, 0.6, -0.5, 0.4, -0.3,
    0.3, 0.2, -0.3, -0.2, 0.2, 0.3, -0.1, -0.3, 0.2, 0.1, -0.2, 0.3, -0.3, 0.2, 0.1, -0.2, 0.3, -0.1, -0.3, 0.2,
    0.2, -0.2, -0.3, 0.3, 0.1, -0.2, 0.2, 0.3, -0.3, -0.1, 0.2, -0.2, 0.3, 0.1, -0.3, 0.2, -0.1, 0.3, -0.2, -0.2,
    0.3, 0.1, -0.3, 0.2, 0.2, -0.3, -0.1, 0.3, 0.2, -0.2, -0.3, 0.1, 0.3, -0.2, 0.2, -0.1, -0.3, 0.3, 0.1, -0.2,
    0.2, 0.3, -0.3, -0.1, 0.2, -0.2, 0.3, 0.1, -0.3, 0.2, -0.1, -0.2, 0.3, 0.2, -0.3, 0.1, 0.2, -0.2, -0.1, 0.3,
    -0.3, 0.2, 0.1, -0.2, 0.3, -0.3, 0.2, -0.1, 0.3, -0.4, 3.4, -2.5, 2.3, -1.8, 1.5, -1.2, 1.1, -0.9, 0.8, -0.7,
    0.6, -0.5, 0.4, -0.4, 0.3, 0.2, -0.3, 0.2, -0.2, 0.3, 0.1, -0.3, 0.2, -0.1, -0.2, 0.3, 0.2, -0.3, 0.1, 0.2,
    -0.2, -0.1, 0.3, -0.3, 0.2, 0.1, -0.2, 0.3, -0.3, 0.2, 0.1, -0.2, -0.1, 0.3, 0.2, -0.3, 0.1, -0.2, 0.3, 0.2,
    -0.3, 0.1, 0.2, -0.2, -0.1, 0.3, -0.3, 0.2, 0.2, -0.2, -0.3, 0.3, 0.1, -0.1, 0.2, -0.3, 0.3, 0.2, -0.2, -0.1,
    0.3, -0.3, 0.2, 0.1, -0.2, 0.3, -0.2, -0.3, 0.2, 0.1, -0.1, 0.3, -0.3, 0.2, 0.4, -0.2, -0.3, 0.1, 0.2, -0.3,
    0.3, 0.2, -0.2, -0.3, 0.1, 0.3, -0.2, 0.2, -0.3, 0.1, 0.2, -0.2, 0.3, -0.4, 0.3, -0.5, 3.3, -2.9, 2.2, -1.8,
    1.7, -1.4, 1.3, -1.1, 1.0, -0.8, 0.7, -0.6, 0.5, -0.5, 0.4, -0.3, 0.3, 0.2, -0.3, 0.2, -0.2, 0.3, 0.1, -0.3,
    0.2, -0.1, -0.2, 0.3, 0.2, -0.3, 0.1, 0.2, -0.2, -0.1, 0.3, -0.3, 0.2, 0.1, -0.2, 0.3, -0.3, 0.2, -0.1, 0.3,
    -0.2, 0.2, -0.3, 0.1, 0.3, -0.2, 0.2, -0.3, 0.1, 0.2, -0.2, 0.3, -0.1, -0.3, 0.2, 0.3, -0.2, 0.1, -0.3, 0.2,
    0.3, -0.3, 0.2, -0.1, -0.2, 0.3, 0.1, -0.2, 0.2, -0.3, 0.3, 0.2, -0.3, 0.1, 0.2, -0.2, 0.3, -0.1, -0.3, 0.2,
    0.2, -0.2, 0.3, -0.3, 0.1, 0.2, -0.3, 0.3, 0.2, -0.2, -0.1, 0.3, -0.3, 0.2, 0.3, -0.2, -0.3, 0.2, 0.4, -0.4,
    0.5, 3.4, -2.8, 2.2, -1.8, 1.6, -1.4, 1.2, -1.0, 0.9, -0.8, 0.7, -0.6, 0.5, -0.5, 0.4, -0.4, 0.3, 0.3, -0.3,
    0.4, -0.3, 0.2, 0.4, -0.3, 0.3, -0.5, 0.2, -0.3, 0.5, -0.6, -0.9, -1.3, -0.8, 0.1, 0.8, 1.2, 0.9, 0.3, -0.3,
    -0.6, -1.0, -0.7, 0.2, 0.7, 0.8, 0.3, -0.4, -0.8, -0.5, 0.1, 0.5, 0.6, 0.2, -0.3, -0.6, -0.2, 0.4, 0.3, 0.0,
]

NORMAL_SERIES = [normal_1, normal_2, normal_3, normal_4]
ANOMALOUS_SERIES = [anomalous_1, anomalous_2, anomalous_3, anomalous_4]

# y-axis limits and ticks as shown in the reference
NORMAL_YLIM = [(-2.4, 2.6), (-2.42, 2.58), (-2.71, 2.71), (-3.2, 3.03)]
NORMAL_YTICKS = [[-2, 0, 2], [-2, 0, 2], [-2, 0, 2], [-2.5, 0.0, 2.5]]
ANOMALOUS_YLIM = [(-5.4, 4.6), (-5.1, 4.7), (-4.7, 4.57), (-3.26, 3.8)]
ANOMALOUS_YTICKS = [[-5, 0], [-5, 0], [-2.5, 0.0, 2.5], [-2.5, 0.0, 2.5]]

GROUP_TITLES = ["Normal Data", "Anomalous Data"]
X_LABEL = "Time (s)"
Y_LABEL = "Acceleration (m/s²)"

LINE_COLOR = "#1f77b4"
TITLE_BG = "#d3f3ef"

# ---------------------------------------------------------------------------
sns.set_theme(style="ticks")
plt.rcParams["font.family"] = ["Liberation Sans", "DejaVu Sans"]
plt.rcParams.update({
    "axes.edgecolor": "#7a7a7a",
    "axes.linewidth": 0.8,
    "xtick.major.size": 3.0,
    "ytick.major.size": 3.0,
    "xtick.major.width": 0.7,
    "ytick.major.width": 0.7,
    "xtick.color": "#222222",
    "ytick.color": "#222222",
    "xtick.labelsize": 13.5,
    "ytick.labelsize": 13.5,
    "axes.labelsize": 13.5,
    "xtick.major.pad": 3,
    "ytick.major.pad": 3,
})

FIG_W, FIG_H = 15.94, 9.35
fig = plt.figure(figsize=(FIG_W, FIG_H), dpi=200)
fig.patch.set_facecolor("white")

# rounded group frames (inches)
frame_specs = [(0.15, 0.10, 7.73, 8.82), (8.21, 0.10, 7.61, 8.82)]
for x0, y0, w, h in frame_specs:
    fig.add_artist(FancyBboxPatch(
        (x0, y0), w, h, boxstyle="round,pad=0,rounding_size=1.1",
        transform=fig.dpi_scale_trans, fill=False, ec="black", lw=1.5, zorder=1,
    ))

# title tags sitting on the frame edges (inches)
tag_specs = [(2.33, 8.66, 3.96, 0.54), (10.135, 8.73, 3.955, 0.54)]
for (x0, y0, w, h), title in zip(tag_specs, GROUP_TITLES):
    fig.add_artist(FancyBboxPatch(
        (x0, y0), w, h, boxstyle="square,pad=0",
        transform=fig.dpi_scale_trans, fc=TITLE_BG, ec="none", zorder=2,
    ))
    fig.text(x0 + w / 2, y0 + h / 2 - 0.02, title, transform=fig.dpi_scale_trans,
             ha="center", va="center", fontsize=25, fontweight="bold",
             family=["Liberation Mono", "DejaVu Sans Mono"], color="black", zorder=3)

# axes placement (figure fractions)
col_x = [0.0829, 0.5976]
col_w = [0.3616, 0.3628]
row_bottoms = [
    [0.7626, 0.5481, 0.3348, 0.1209],
    [0.7495, 0.5359, 0.3225, 0.1090],
]
AX_H = 0.1416

groups = [
    (NORMAL_SERIES, NORMAL_YLIM, NORMAL_YTICKS),
    (ANOMALOUS_SERIES, ANOMALOUS_YLIM, ANOMALOUS_YTICKS),
]

for col, (series_list, ylims, yticks) in enumerate(groups):
    for row, values in enumerate(series_list):
        ax = fig.add_axes([col_x[col], row_bottoms[col][row], col_w[col], AX_H])
        vals = np.asarray(values, dtype=float)
        time_s = np.arange(len(vals)) * DURATION_S / (len(vals) - 1)
        sns.lineplot(x=time_s, y=vals, ax=ax, color=LINE_COLOR,
                     linewidth=2.0, estimator=None, sort=False)
        ax.set_xlim(-0.05, 1.05)
        ax.set_xticks([0.0, 0.2, 0.4, 0.6, 0.8, 1.0])
        ax.set_ylim(*ylims[row])
        ax.set_yticks(yticks[row])
        ax.set_xlabel(X_LABEL, labelpad=2)
        ax.set_ylabel(Y_LABEL, labelpad=4)
        ax.set_facecolor("white")

fig.savefig("out.png", dpi=200, facecolor="white")
